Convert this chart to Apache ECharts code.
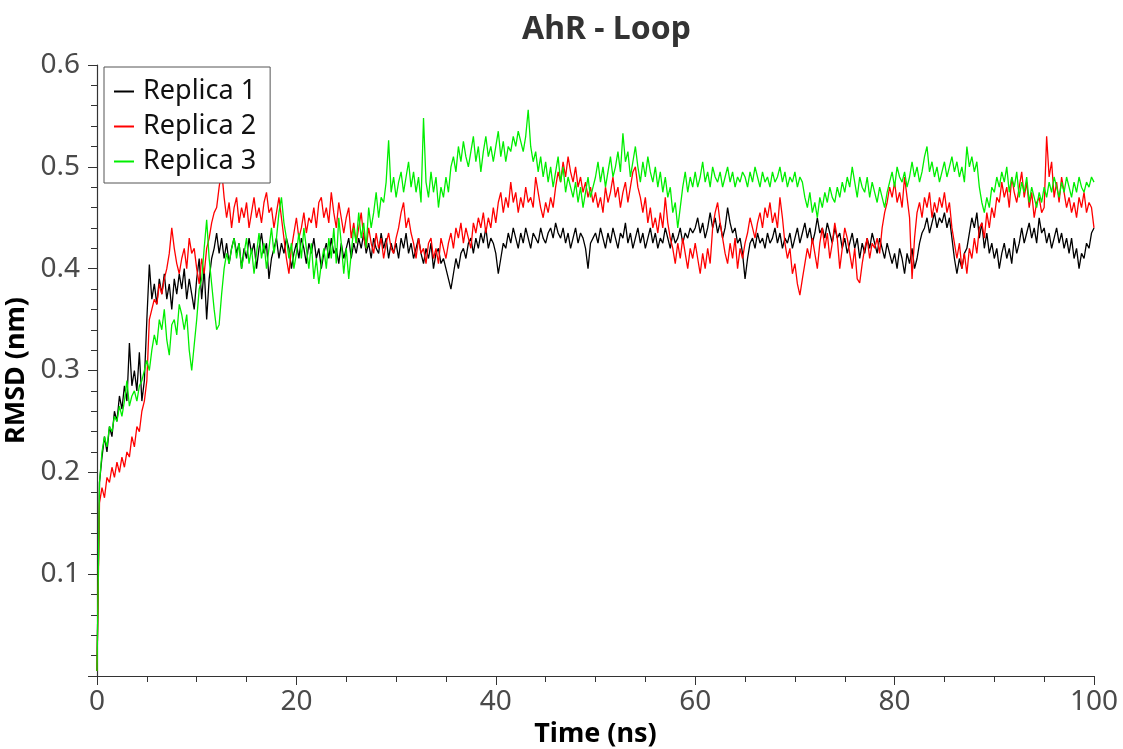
<!DOCTYPE html>
<html>
<head>
<meta charset="utf-8">
<script src="https://cdn.jsdelivr.net/npm/echarts@6/dist/echarts.min.js"></script>
<style>html,body{margin:0;padding:0;background:#fff}#c{width:1123px;height:749px}</style>
</head>
<body>
<div id="c"></div>
<script>
// Sampling grid: one value every 0.25 ns from 0 to 100 ns
const timeStepNs = 0.25;
const seriesNames = ["Replica 1", "Replica 2", "Replica 3"];
const yTickLabels = ["0.1", "0.2", "0.3", "0.4", "0.5", "0.6"];
const xTickLabels = ["0", "20", "40", "60", "80", "100"];

const replica1 = [
0.005,0.19,0.215,0.235,0.22,0.245,0.235,0.26,0.25,0.275,0.262,0.285,0.27,0.327,0.285,0.30,0.28,0.318,0.27,0.29,
0.35,0.404,0.37,0.385,0.365,0.39,0.375,0.395,0.37,0.385,0.36,0.39,0.375,0.395,0.38,0.40,0.37,0.39,0.375,0.36,
0.39,0.41,0.37,0.40,0.35,0.39,0.41,0.42,0.435,0.415,0.43,0.41,0.425,0.405,0.42,0.43,0.415,0.425,0.40,0.42,
0.41,0.43,0.415,0.425,0.40,0.42,0.435,0.415,0.425,0.39,0.41,0.42,0.43,0.41,0.425,0.415,0.43,0.42,0.40,0.415,
0.425,0.41,0.43,0.42,0.405,0.425,0.415,0.43,0.41,0.42,0.40,0.415,0.425,0.41,0.43,0.415,0.42,0.405,0.425,0.41,
0.42,0.43,0.41,0.425,0.415,0.43,0.42,0.435,0.415,0.425,0.41,0.43,0.42,0.415,0.435,0.42,0.43,0.41,0.425,0.415,
0.425,0.41,0.43,0.42,0.435,0.415,0.425,0.41,0.42,0.43,0.415,0.405,0.42,0.41,0.425,0.40,0.415,0.42,0.405,0.41,
0.40,0.39,0.38,0.395,0.41,0.40,0.415,0.42,0.41,0.425,0.43,0.415,0.43,0.42,0.435,0.425,0.44,0.42,0.43,0.425,
0.415,0.395,0.41,0.425,0.42,0.435,0.425,0.44,0.43,0.42,0.435,0.425,0.44,0.43,0.42,0.435,0.43,0.425,0.44,0.43,
0.425,0.435,0.44,0.43,0.445,0.435,0.43,0.44,0.425,0.435,0.42,0.43,0.44,0.425,0.435,0.43,0.42,0.40,0.425,0.43,
0.435,0.425,0.44,0.43,0.42,0.435,0.425,0.44,0.43,0.42,0.435,0.43,0.445,0.425,0.435,0.42,0.43,0.44,0.425,0.435,
0.42,0.43,0.44,0.425,0.435,0.42,0.43,0.425,0.44,0.43,0.42,0.435,0.425,0.43,0.44,0.425,0.435,0.43,0.44,0.435,
0.44,0.45,0.435,0.445,0.43,0.44,0.455,0.44,0.45,0.435,0.445,0.43,0.44,0.46,0.445,0.435,0.44,0.425,0.43,0.415,
0.39,0.41,0.425,0.43,0.42,0.435,0.425,0.43,0.42,0.435,0.425,0.43,0.44,0.425,0.435,0.42,0.43,0.425,0.435,0.42,
0.43,0.44,0.425,0.435,0.445,0.43,0.44,0.425,0.435,0.45,0.435,0.44,0.43,0.445,0.435,0.425,0.44,0.43,0.435,0.42,
0.43,0.415,0.425,0.435,0.42,0.43,0.41,0.425,0.415,0.43,0.42,0.435,0.425,0.415,0.43,0.42,0.41,0.425,0.415,0.405,
0.415,0.40,0.42,0.41,0.395,0.415,0.405,0.42,0.40,0.41,0.425,0.435,0.44,0.45,0.435,0.445,0.455,0.44,0.45,0.445,
0.455,0.44,0.45,0.43,0.41,0.395,0.41,0.40,0.415,0.42,0.435,0.45,0.44,0.455,0.43,0.445,0.42,0.435,0.415,0.425,
0.41,0.42,0.40,0.415,0.425,0.41,0.42,0.405,0.43,0.415,0.425,0.44,0.425,0.435,0.445,0.43,0.44,0.425,0.45,0.435,
0.44,0.425,0.435,0.42,0.43,0.44,0.425,0.435,0.42,0.43,0.415,0.43,0.41,0.42,0.40,0.415,0.41,0.425,0.42,0.435,
0.44];

const replica2 = [
0.005,0.17,0.185,0.175,0.195,0.19,0.205,0.195,0.21,0.20,0.215,0.205,0.22,0.215,0.235,0.225,0.245,0.24,0.26,0.27,
0.29,0.35,0.36,0.37,0.365,0.385,0.375,0.39,0.40,0.415,0.44,0.42,0.405,0.395,0.41,0.42,0.40,0.43,0.415,0.42,
0.40,0.385,0.41,0.395,0.42,0.43,0.445,0.455,0.46,0.48,0.497,0.47,0.45,0.465,0.44,0.46,0.47,0.445,0.46,0.45,
0.465,0.44,0.455,0.47,0.45,0.46,0.445,0.465,0.475,0.455,0.46,0.44,0.455,0.47,0.45,0.43,0.41,0.395,0.42,0.435,
0.45,0.43,0.44,0.455,0.435,0.45,0.445,0.46,0.44,0.465,0.47,0.45,0.46,0.445,0.475,0.455,0.44,0.465,0.45,0.435,
0.45,0.46,0.43,0.445,0.425,0.44,0.455,0.43,0.42,0.44,0.425,0.415,0.435,0.42,0.43,0.41,0.425,0.435,0.42,0.415,
0.43,0.44,0.455,0.465,0.44,0.45,0.435,0.425,0.41,0.43,0.415,0.42,0.405,0.425,0.43,0.41,0.42,0.405,0.43,0.42,
0.41,0.425,0.435,0.42,0.44,0.43,0.445,0.425,0.44,0.43,0.42,0.445,0.435,0.45,0.44,0.455,0.435,0.45,0.44,0.46,
0.445,0.465,0.475,0.455,0.47,0.46,0.485,0.465,0.475,0.455,0.47,0.46,0.48,0.465,0.47,0.46,0.49,0.475,0.46,0.45,
0.465,0.455,0.47,0.46,0.48,0.495,0.485,0.505,0.49,0.51,0.495,0.485,0.50,0.48,0.49,0.475,0.485,0.47,0.48,0.465,
0.475,0.46,0.47,0.455,0.48,0.465,0.475,0.49,0.47,0.48,0.46,0.475,0.485,0.465,0.48,0.495,0.50,0.48,0.47,0.455,
0.47,0.445,0.46,0.44,0.45,0.435,0.455,0.44,0.47,0.445,0.43,0.42,0.405,0.425,0.41,0.43,0.415,0.40,0.42,0.41,
0.425,0.41,0.395,0.415,0.40,0.42,0.405,0.44,0.455,0.465,0.445,0.43,0.415,0.405,0.425,0.41,0.43,0.40,0.42,0.41,
0.425,0.435,0.45,0.44,0.43,0.445,0.455,0.44,0.46,0.45,0.465,0.445,0.455,0.44,0.47,0.45,0.425,0.41,0.42,0.395,
0.405,0.385,0.374,0.39,0.405,0.42,0.41,0.43,0.415,0.40,0.425,0.44,0.42,0.435,0.41,0.425,0.445,0.43,0.40,0.42,
0.44,0.43,0.415,0.40,0.42,0.39,0.386,0.405,0.42,0.43,0.41,0.425,0.42,0.43,0.415,0.44,0.455,0.465,0.48,0.47,
0.485,0.465,0.475,0.46,0.49,0.47,0.45,0.39,0.43,0.455,0.465,0.45,0.47,0.46,0.475,0.45,0.465,0.455,0.47,0.46,
0.475,0.455,0.465,0.44,0.425,0.41,0.425,0.40,0.415,0.395,0.42,0.41,0.43,0.415,0.44,0.445,0.43,0.455,0.44,0.46,
0.45,0.47,0.465,0.485,0.47,0.48,0.46,0.49,0.475,0.465,0.48,0.495,0.47,0.485,0.46,0.475,0.45,0.465,0.47,0.455,
0.46,0.53,0.49,0.505,0.47,0.485,0.465,0.49,0.475,0.46,0.47,0.455,0.465,0.45,0.47,0.46,0.475,0.455,0.465,0.46,
0.44];

const replica3 = [
0.005,0.19,0.22,0.235,0.225,0.245,0.24,0.255,0.25,0.265,0.255,0.27,0.29,0.265,0.275,0.28,0.27,0.285,0.29,0.30,
0.31,0.30,0.32,0.335,0.325,0.35,0.34,0.36,0.33,0.315,0.345,0.35,0.335,0.365,0.355,0.34,0.355,0.32,0.30,0.325,
0.35,0.38,0.39,0.42,0.448,0.41,0.385,0.36,0.34,0.345,0.375,0.40,0.415,0.405,0.42,0.43,0.41,0.425,0.40,0.415,
0.43,0.405,0.42,0.395,0.415,0.435,0.41,0.425,0.40,0.42,0.44,0.415,0.43,0.455,0.47,0.445,0.43,0.41,0.425,0.40,
0.415,0.435,0.41,0.44,0.42,0.40,0.425,0.39,0.41,0.385,0.405,0.42,0.40,0.43,0.41,0.44,0.405,0.45,0.425,0.395,
0.42,0.39,0.415,0.44,0.425,0.455,0.43,0.445,0.42,0.46,0.44,0.455,0.475,0.45,0.47,0.465,0.485,0.526,0.475,0.49,
0.47,0.485,0.495,0.475,0.49,0.505,0.48,0.495,0.475,0.49,0.465,0.548,0.485,0.47,0.495,0.475,0.49,0.46,0.48,0.47,
0.49,0.475,0.50,0.51,0.495,0.52,0.505,0.525,0.51,0.50,0.515,0.53,0.505,0.52,0.495,0.515,0.53,0.51,0.52,0.505,
0.52,0.535,0.51,0.525,0.505,0.52,0.515,0.53,0.52,0.535,0.525,0.515,0.53,0.556,0.52,0.505,0.515,0.495,0.51,0.49,
0.505,0.485,0.50,0.48,0.495,0.51,0.485,0.50,0.475,0.49,0.48,0.47,0.485,0.465,0.48,0.46,0.475,0.49,0.47,0.48,
0.49,0.505,0.485,0.50,0.48,0.495,0.51,0.49,0.50,0.515,0.495,0.533,0.505,0.515,0.49,0.505,0.52,0.50,0.485,0.505,
0.49,0.51,0.495,0.485,0.50,0.48,0.495,0.475,0.49,0.47,0.48,0.455,0.465,0.44,0.46,0.48,0.495,0.475,0.49,0.48,
0.495,0.48,0.49,0.505,0.485,0.495,0.48,0.50,0.49,0.485,0.495,0.48,0.49,0.50,0.485,0.495,0.48,0.49,0.485,0.495,
0.49,0.48,0.495,0.485,0.50,0.49,0.48,0.495,0.485,0.49,0.48,0.495,0.485,0.49,0.50,0.485,0.495,0.48,0.49,0.485,
0.495,0.48,0.49,0.485,0.47,0.46,0.475,0.455,0.465,0.45,0.47,0.46,0.475,0.465,0.48,0.47,0.465,0.48,0.47,0.485,
0.475,0.49,0.48,0.50,0.485,0.47,0.49,0.48,0.475,0.49,0.47,0.485,0.475,0.465,0.48,0.47,0.46,0.475,0.485,0.495,
0.48,0.50,0.49,0.485,0.495,0.48,0.49,0.505,0.49,0.50,0.485,0.495,0.51,0.52,0.495,0.505,0.49,0.50,0.485,0.495,
0.505,0.49,0.50,0.51,0.495,0.505,0.49,0.50,0.485,0.52,0.50,0.51,0.495,0.505,0.48,0.465,0.455,0.47,0.46,0.48,
0.475,0.49,0.48,0.495,0.485,0.50,0.475,0.49,0.48,0.495,0.47,0.485,0.475,0.49,0.465,0.48,0.47,0.46,0.475,0.465,
0.48,0.47,0.485,0.475,0.49,0.48,0.47,0.485,0.475,0.49,0.48,0.47,0.485,0.475,0.49,0.48,0.475,0.485,0.48,0.49,
0.485];

const seriesColors = ["#000000", "#ff0000", "#00ee00"];
const allValues = [replica1, replica2, replica3];

function toPairs(vals) {
  return vals.map((v, i) => [i * timeStepNs, v]);
}

const FONT = "'Noto Sans', 'Open Sans', sans-serif";
const chart = echarts.init(document.getElementById('c'), null, {renderer: 'canvas'});
chart.setOption({
  animation: false,
  backgroundColor: '#ffffff',
  title: {
    text: 'AhR - Loop',
    left: 517, top: 9,
    textStyle: {fontFamily: FONT, fontSize: 32, fontWeight: 'bold', color: '#333333'}
  },
  legend: {
    orient: 'vertical',
    left: 104, top: 67,
    padding: [11, 14, 8, 10],
    itemGap: 8,
    itemWidth: 20, itemHeight: 2,
    icon: 'rect',
    backgroundColor: '#ffffff',
    borderColor: '#555555', borderWidth: 1, borderRadius: 0,
    textStyle: {fontFamily: FONT, fontSize: 27, color: '#111111', padding: [0, 0, 0, 4]},
    data: seriesNames
  },
  grid: {left: 97, right: 29, top: 65, bottom: 73, containLabel: false, outerBoundsMode: 'none'},
  xAxis: {
    type: 'value', min: 0, max: 100, interval: 20,
    name: 'Time (ns)', nameLocation: 'middle', nameGap: 42,
    nameTextStyle: {fontFamily: FONT, fontSize: 27, fontWeight: 'bold', color: '#000'},
    axisLine: {onZero: false, lineStyle: {color: '#333', width: 1.2}},
    axisTick: {show: true, inside: false, length: 9, lineStyle: {color: '#333'}},
    minorTick: {show: true, splitNumber: 4, length: 6, lineStyle: {color: '#333'}},
    splitLine: {show: false},
    axisLabel: {
      fontFamily: FONT, fontSize: 28, color: '#4a4a4a', margin: 12,
      formatter: (v) => xTickLabels[Math.round(v / 20)] || ''
    }
  },
  yAxis: {
    type: 'value', min: 0, max: 0.6, interval: 0.1,
    name: 'RMSD (nm)', nameLocation: 'middle', nameGap: 56, nameRotate: 90,
    nameTextStyle: {fontFamily: FONT, fontSize: 27, fontWeight: 'bold', color: '#000'},
    axisLine: {show: true, onZero: false, lineStyle: {color: '#333', width: 1.2}},
    axisTick: {show: true, inside: false, length: 9, lineStyle: {color: '#333'}},
    minorTick: {show: true, splitNumber: 5, length: 6, lineStyle: {color: '#333'}},
    splitLine: {show: false},
    axisLabel: {
      fontFamily: FONT, fontSize: 28, color: '#4a4a4a', margin: 17,
      formatter: (v) => {
        const k = Math.round(v * 10);
        return k >= 1 ? yTickLabels[k - 1] : '';
      }
    }
  },
  series: seriesNames.map((name, i) => ({
    name: name,
    type: 'line',
    data: toPairs(allValues[i]),
    showSymbol: false,
    symbol: 'none',
    lineStyle: {color: seriesColors[i], width: 1.3},
    itemStyle: {color: seriesColors[i]},
    z: 2 + i
  }))
});
</script>
</body>
</html>
